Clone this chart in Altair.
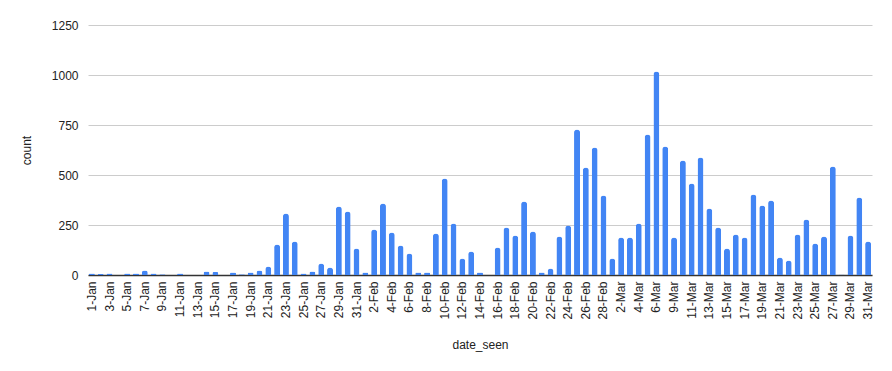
import altair as alt
import pandas as pd

jan = [f"{d}-Jan" for d in range(1, 32)]
feb = [f"{d}-Feb" for d in range(1, 29)]
mar = [f"{d}-Mar" for d in range(1, 32) if d != 8]
dates = jan + feb + mar

jan_counts = [8, 5, 8, 0, 8, 8, 23, 8, 4, 0, 8, 0, 0, 18, 15, 0, 13, 4, 13, 23,
              43, 153, 308, 168, 8, 18, 58, 37, 342, 317, 132]
feb_counts = [12, 227, 357, 212, 147, 107, 12, 12, 207, 482, 257, 82, 117, 12, 0,
              137, 237, 197, 367, 217, 12, 32, 193, 247, 727, 537, 637, 397]
mar_counts = [82, 187, 187, 257, 702, 1017, 642, 187, 572, 457, 587, 332, 237, 132,
              202, 187, 402, 347, 372, 87, 72, 202, 277, 158, 192, 542, 3, 197, 387, 167]
counts = jan_counts + feb_counts + mar_counts

df = pd.DataFrame({"date_seen": dates, "count": counts})
label_values = dates[::2]

font = "Liberation Sans"

chart = alt.Chart(df).mark_bar(
    color="#4285F4", cornerRadiusTopLeft=3, cornerRadiusTopRight=3
).encode(
    x=alt.X("date_seen:N", sort=dates, title="date_seen",
            scale=alt.Scale(paddingInner=0.32, paddingOuter=0.1),
            axis=alt.Axis(values=label_values, labelAngle=-90, labelOverlap=False,
                          ticks=False, domainColor="#333", domainWidth=1.5, labelColor="#222",
                          labelFontSize=12, labelPadding=6, titleFontSize=12,
                          titleFontWeight="normal", titleColor="#222", titlePadding=20,
                          labelFont=font, titleFont=font)),
    y=alt.Y("count:Q", title="count",
            scale=alt.Scale(domain=[0, 1250], nice=False),
            axis=alt.Axis(values=[0, 250, 500, 750, 1000, 1250], format="d", domain=False,
                          ticks=False, gridColor="#cccccc", labelColor="#222", labelFontSize=12,
                          labelPadding=10, titleFontSize=12, titleFontWeight="normal",
                          titleColor="#222", titlePadding=18, labelFont=font, titleFont=font)),
).properties(
    width=784, height=250,
    padding={"left": 80, "top": 17, "right": 12, "bottom": 88},
    autosize=alt.AutoSizeParams(type="none"),
).configure_view(stroke=None)

chart.save("out.html", embed_options={"renderer": "svg", "actions": False})
